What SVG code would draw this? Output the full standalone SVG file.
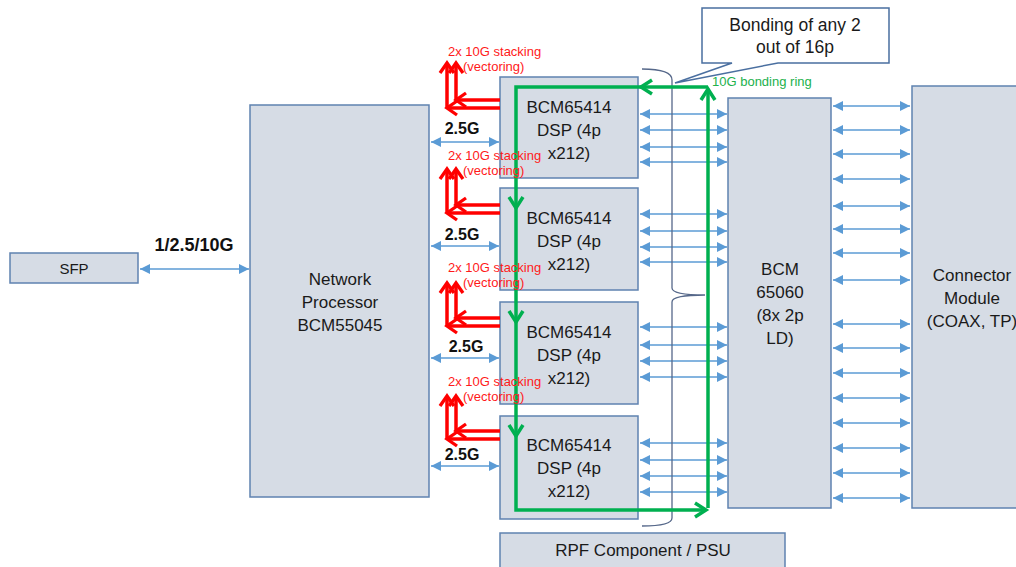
<svg xmlns="http://www.w3.org/2000/svg" width="1016" height="567" viewBox="0 0 1016 567">
<style>
.box{fill:#D6DCE5;stroke:#5F82B0;stroke-width:1.5}
.t{font-family:"Liberation Sans",Arial,sans-serif;font-size:17px;fill:#1a1a1a;text-anchor:middle}
.b{font-family:"Liberation Sans",Arial,sans-serif;font-size:16px;font-weight:bold;fill:#111;text-anchor:middle}
.r{font-family:"Liberation Sans",Arial,sans-serif;font-size:13px;fill:#FF1A1A}
.g{font-family:"Liberation Sans",Arial,sans-serif;font-size:13px;fill:#22B14C}
.bl{stroke:#5B9BD5;stroke-width:1.4;fill:none;marker-start:url(#ba);marker-end:url(#ba)}
.rd{stroke:#FF0000;stroke-width:3.5;fill:none;marker-end:url(#ra)}
.gra{stroke:#00B050;stroke-width:3.5;fill:none;marker-end:url(#ga)}
.br{stroke:#56688A;stroke-width:1.3;fill:none}
</style>
<defs>
<marker id="ba" viewBox="0 0 10 10" refX="10" refY="5" markerWidth="11" markerHeight="10" markerUnits="userSpaceOnUse" orient="auto-start-reverse"><path d="M0,0 L10,5 L0,10 z" fill="#5B9BD5"/></marker>
<marker id="ra" viewBox="-3 -3 17 20" refX="10" refY="7" markerWidth="17" markerHeight="20" markerUnits="userSpaceOnUse" orient="auto" overflow="visible"><path d="M0,0 L10,7 L0,14" fill="none" stroke="#FF0000" stroke-width="3.3"/></marker>
<marker id="ga" viewBox="-3 -3 18 20" refX="11" refY="7" markerWidth="18" markerHeight="20" markerUnits="userSpaceOnUse" orient="auto" overflow="visible"><path d="M0,0 L11,7 L0,14" fill="none" stroke="#00B050" stroke-width="3.5"/></marker>
</defs>
<rect width="1016" height="567" fill="#fff"/>

<g id="sfp"><rect class="box" x="10" y="253" width="128" height="30"/><text class="t" x="74" y="274" style="font-size:15px">SFP</text></g>
<g id="np"><rect class="box" x="250" y="105" width="179" height="392"/>
<text class="t" x="340" y="285">Network</text><text class="t" x="340" y="308">Processor</text><text class="t" x="340" y="331">BCM55045</text></g>
<g id="dsp1"><rect class="box" x="500" y="77" width="138" height="101"/>
<text class="t" x="569" y="113">BCM65414</text><text class="t" x="569" y="136">DSP (4p</text><text class="t" x="569" y="159">x212)</text></g>
<g id="dsp2"><rect class="box" x="500" y="188" width="138" height="102"/>
<text class="t" x="569" y="224">BCM65414</text><text class="t" x="569" y="247">DSP (4p</text><text class="t" x="569" y="270">x212)</text></g>
<g id="dsp3"><rect class="box" x="500" y="302" width="138" height="102"/>
<text class="t" x="569" y="338">BCM65414</text><text class="t" x="569" y="361">DSP (4p</text><text class="t" x="569" y="384">x212)</text></g>
<g id="dsp4"><rect class="box" x="500" y="416" width="138" height="103"/>
<text class="t" x="569" y="451">BCM65414</text><text class="t" x="569" y="474">DSP (4p</text><text class="t" x="569" y="497">x212)</text></g>
<g id="bcm65060"><rect class="box" x="728" y="98" width="103" height="410"/>
<text class="t" x="780" y="275">BCM</text><text class="t" x="780" y="298">65060</text><text class="t" x="780" y="321">(8x 2p</text><text class="t" x="780" y="344">LD)</text></g>
<g id="connector"><rect class="box" x="912" y="86" width="110" height="422"/>
<text class="t" x="972" y="281">Connector</text><text class="t" x="972" y="304">Module</text><text class="t" x="972" y="327">(COAX, TP)</text></g>
<g id="rpf"><rect class="box" x="500" y="533" width="285" height="40"/><text class="t" x="643" y="556">RPF Component / PSU</text></g>

<g id="connectors">
<line class="bl" x1="140" y1="269" x2="249" y2="269"/>
<line class="bl" x1="431" y1="142" x2="499" y2="142"/>
<line class="bl" x1="431" y1="246" x2="499" y2="246"/>
<line class="bl" x1="431" y1="358" x2="499" y2="358"/>
<line class="bl" x1="431" y1="466" x2="499" y2="466"/>
<g>
<line class="bl" x1="640" y1="114" x2="727" y2="114"/><line class="bl" x1="640" y1="130" x2="727" y2="130"/><line class="bl" x1="640" y1="147" x2="727" y2="147"/><line class="bl" x1="640" y1="162" x2="727" y2="162"/>
<line class="bl" x1="640" y1="214" x2="727" y2="214"/><line class="bl" x1="640" y1="231" x2="727" y2="231"/><line class="bl" x1="640" y1="247" x2="727" y2="247"/><line class="bl" x1="640" y1="262" x2="727" y2="262"/>
<line class="bl" x1="640" y1="327" x2="727" y2="327"/><line class="bl" x1="640" y1="345" x2="727" y2="345"/><line class="bl" x1="640" y1="361" x2="727" y2="361"/><line class="bl" x1="640" y1="377" x2="727" y2="377"/>
<line class="bl" x1="640" y1="443" x2="727" y2="443"/><line class="bl" x1="640" y1="460" x2="727" y2="460"/><line class="bl" x1="640" y1="476" x2="727" y2="476"/><line class="bl" x1="640" y1="492" x2="727" y2="492"/>
</g>
<g>
<line class="bl" x1="833" y1="106" x2="910" y2="106"/><line class="bl" x1="833" y1="130" x2="910" y2="130"/><line class="bl" x1="833" y1="154" x2="910" y2="154"/><line class="bl" x1="833" y1="179" x2="910" y2="179"/>
<line class="bl" x1="833" y1="206" x2="910" y2="206"/><line class="bl" x1="833" y1="229" x2="910" y2="229"/><line class="bl" x1="833" y1="253" x2="910" y2="253"/><line class="bl" x1="833" y1="280" x2="910" y2="280"/>
<line class="bl" x1="833" y1="324" x2="910" y2="324"/><line class="bl" x1="833" y1="348" x2="910" y2="348"/><line class="bl" x1="833" y1="373" x2="910" y2="373"/><line class="bl" x1="833" y1="398" x2="910" y2="398"/>
<line class="bl" x1="833" y1="423" x2="910" y2="423"/><line class="bl" x1="833" y1="448" x2="910" y2="448"/><line class="bl" x1="833" y1="473" x2="910" y2="473"/><line class="bl" x1="833" y1="498" x2="910" y2="498"/>
</g>
<path class="br" d="M642,69 Q672,69 672,80 V288 Q672,295 705,295 Q672,295 672,302 V518 Q672,526 642,526"/>
<g>
<path class="rd" d="M500,100 H456"/><path class="rd" d="M456,100 V63"/>
<path class="rd" d="M500,108 H447"/><path class="rd" d="M447,108 V63"/>
<path class="rd" d="M500,205 H456"/><path class="rd" d="M456,205 V169"/>
<path class="rd" d="M500,213 H447"/><path class="rd" d="M447,213 V169"/>
<path class="rd" d="M500,318 H456"/><path class="rd" d="M456,318 V283"/>
<path class="rd" d="M500,326 H447"/><path class="rd" d="M447,326 V283"/>
<path class="rd" d="M500,431 H456"/><path class="rd" d="M456,431 V396"/>
<path class="rd" d="M500,439 H447"/><path class="rd" d="M447,439 V396"/>
</g>
<g>
<path class="gra" d="M708,508 V89"/>
<path class="gra" d="M708,87 H641"/>
<path class="gra" d="M641,87 H516 V208"/>
<path class="gra" d="M516,208 V322"/>
<path class="gra" d="M516,322 V436"/>
<path class="gra" d="M516,436 V510 H706"/>
</g>
</g>

<g id="labels">
<text class="b" x="194" y="251" style="font-size:18px">1/2.5/10G</text>
<text class="b" x="462" y="134">2.5G</text>
<text class="b" x="462" y="240">2.5G</text>
<text class="b" x="466" y="352">2.5G</text>
<text class="b" x="462" y="460">2.5G</text>
<text class="r" x="448" y="56">2x 10G stacking</text><text class="r" x="463" y="71">(vectoring)</text>
<text class="r" x="448" y="160">2x 10G stacking</text><text class="r" x="463" y="175">(vectoring)</text>
<text class="r" x="448" y="272">2x 10G stacking</text><text class="r" x="463" y="287">(vectoring)</text>
<text class="r" x="448" y="386">2x 10G stacking</text><text class="r" x="463" y="401">(vectoring)</text>
<text class="g" x="712" y="86">10G bonding ring</text>
</g>

<g id="callout">
<path d="M702,8 H889 V63 H778 L675,83 L732,63 H702 Z" fill="#fff" stroke="#4A6FA0" stroke-width="1.5"/>
<text class="t" x="795" y="31" style="font-size:17.5px">Bonding of any 2</text>
<text class="t" x="795" y="53" style="font-size:17.5px">out of 16p</text>
</g>
</svg>
